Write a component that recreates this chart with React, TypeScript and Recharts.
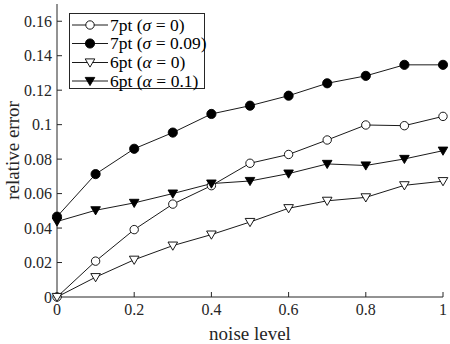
import React from "react";
import { LineChart, Line, XAxis, YAxis, Legend } from "recharts";

const noiseLevels = [0, 0.1, 0.2, 0.3, 0.4, 0.5, 0.6, 0.7, 0.8, 0.9, 1];
const sevenPtSigma0 = [0, 0.0208, 0.0391, 0.0539, 0.0646, 0.0776, 0.0827, 0.0911, 0.0998, 0.0994, 0.1048];
const sevenPtSigma009 = [0.0466, 0.0713, 0.086, 0.0954, 0.1062, 0.111, 0.1168, 0.124, 0.1283, 0.1347, 0.1347];
const sixPtAlpha0 = [0, 0.0115, 0.0216, 0.0298, 0.0362, 0.0435, 0.0515, 0.0558, 0.0578, 0.0648, 0.0672];
const sixPtAlpha01 = [0.0438, 0.0503, 0.0546, 0.06, 0.0658, 0.0673, 0.0716, 0.0772, 0.0763, 0.0801, 0.0849];

const xTicks = [0, 0.2, 0.4, 0.6, 0.8, 1];
const yTicks = [0, 0.02, 0.04, 0.06, 0.08, 0.1, 0.12, 0.14, 0.16];

const seriesInfo = [
  { key: "s0", prefix: "7pt (", greek: "σ", value: "0)", marker: "circle", filled: false },
  { key: "s009", prefix: "7pt (", greek: "σ", value: "0.09)", marker: "circle", filled: true },
  { key: "a0", prefix: "6pt (", greek: "α", value: "0)", marker: "tri", filled: false },
  { key: "a01", prefix: "6pt (", greek: "α", value: "0.1)", marker: "tri", filled: true },
];

const data = noiseLevels.map((x, i) => ({
  x,
  s0: sevenPtSigma0[i],
  s009: sevenPtSigma009[i],
  a0: sixPtAlpha0[i],
  a01: sixPtAlpha01[i],
}));

const FONT = "'Liberation Serif', 'Times New Roman', serif";
const AX = "#262626";

function markerShape(kind: string, filled: boolean, cx: number, cy: number, key?: any) {
  const fill = filled ? "#000" : "#fff";
  if (kind === "circle") {
    return <circle key={key} cx={cx} cy={cy} r={filled ? 4.6 : 4.2} fill={fill} stroke="#000" strokeWidth={0.9} />;
  }
  const pts = `${cx - 4.8},${cy - 3.6} ${cx + 4.8},${cy - 3.6} ${cx},${cy + 4.6}`;
  return <polygon key={key} points={pts} fill={fill} stroke="#000" strokeWidth={0.9} strokeLinejoin="miter" />;
}

const fmt = (v: number) => String(Math.round(v * 1000) / 1000);

function LegendBox() {
  const rowY = [12, 30.5, 49.5, 68];
  return (
    <svg width={137} height={77} style={{ display: "block", overflow: "visible", fontFamily: FONT }}>
      <rect x={0.5} y={0.5} width={135} height={75} fill="#fff" stroke={AX} strokeWidth={1} />
      {seriesInfo.map((s, i) => (
        <g key={s.key}>
          <line x1={3} x2={39} y1={rowY[i]} y2={rowY[i]} stroke="#000" strokeWidth={0.9} />
          {markerShape(s.marker, s.filled, 21, rowY[i])}
          <text x={41} y={rowY[i] + 5.5} style={{ fontFamily: FONT }} fontSize={17.5} fill="#000">
            {s.prefix}
            <tspan fontStyle="italic">{s.greek}</tspan>
            <tspan dx={4.5}>=</tspan>
            <tspan dx={4.5}>{s.value}</tspan>
          </text>
        </g>
      ))}
    </svg>
  );
}

export default function App() {
  return (
    <div style={{ position: "absolute", left: 0, top: 0, width: 450, height: 344, background: "#fff", fontFamily: FONT }}>
      <LineChart width={450} height={344} data={data} margin={{ top: 4, right: 7, bottom: 0, left: 0 }} style={{ fontFamily: FONT }}>
        <XAxis
          xAxisId="b"
          type="number"
          dataKey="x"
          domain={[0, 1]}
          ticks={xTicks}
          tickFormatter={fmt}
          height={47}
          tickSize={-5}
          tickMargin={12}
          stroke={AX}
          tick={{ fill: AX, fontSize: 16, style: { fontFamily: FONT } }}
          label={{ value: "noise level", position: "insideBottom", offset: 4, fill: AX, fontSize: 19, style: { fontFamily: FONT } }}
        />
        <XAxis
          xAxisId="t"
          orientation="top"
          type="number"
          dataKey="x"
          domain={[0, 1]}
          ticks={xTicks}
          height={0}
          tickSize={-5}
          tick={false}
          stroke={AX}
        />
        <YAxis
          yAxisId="l"
          type="number"
          domain={[0, 0.17]}
          ticks={yTicks}
          tickFormatter={fmt}
          width={57}
          tickSize={-5}
          tickMargin={10}
          stroke={AX}
          tick={{ fill: AX, fontSize: 16, style: { fontFamily: FONT } }}
          label={{ value: "relative error", angle: -90, position: "insideLeft", offset: 12, fill: AX, fontSize: 19, style: { textAnchor: "middle", fontFamily: FONT } }}
        />
        <YAxis
          yAxisId="r"
          orientation="right"
          type="number"
          domain={[0, 0.17]}
          ticks={yTicks}
          width={0}
          tickSize={-5}
          tick={false}
          stroke={AX}
        />
        {seriesInfo.map((s) => (
          <Line
            key={s.key}
            xAxisId="b"
            yAxisId="l"
            type="linear"
            dataKey={s.key}
            stroke="#000"
            strokeWidth={0.9}
            isAnimationActive={false}
            dot={(p: any) => markerShape(s.marker, s.filled, p.cx, p.cy, p.key ?? `${s.key}-${p.index}`)}
            activeDot={false}
          />
        ))}
        <Legend
          layout="vertical"
          align="center"
          verticalAlign="middle"
          wrapperStyle={{ position: "absolute", left: 69, top: 13, width: 137, height: 77 }}
          content={() => <LegendBox />}
        />
      </LineChart>
    </div>
  );
}
